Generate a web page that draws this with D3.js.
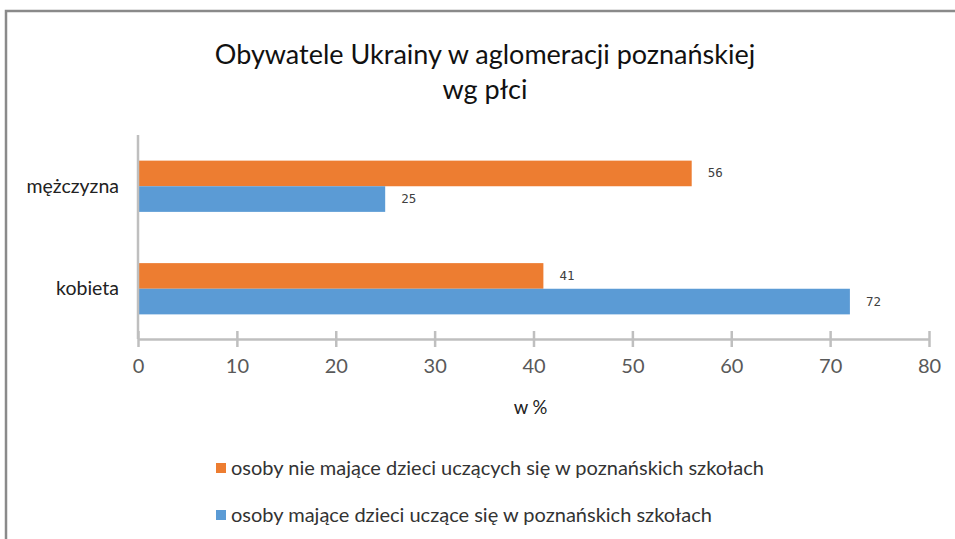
<!DOCTYPE html>
<html><head><meta charset="utf-8">
<script src="https://cdn.jsdelivr.net/npm/d3@7"></script>
<style>body{margin:0;background:#fff}svg{display:block}</style>
</head><body>
<svg id="c" width="955" height="539"></svg>
<script>
const categories = ["mężczyzna", "kobieta"];
const seriesNames = ["osoby nie mające dzieci uczących się w poznańskich szkołach", "osoby mające dzieci uczące się w poznańskich szkołach"];
const seriesColors = ["#ED7D31", "#5B9BD5"];
const orangeValues = [56, 41];
const blueValues = [25, 72];
const xTicks = [0, 10, 20, 30, 40, 50, 60, 70, 80];
const titleLines = ["Obywatele Ukrainy w aglomeracji poznańskiej", "wg płci"];
const axisTitle = "w %";

const svg = d3.select("#c");
const font = "Lato, 'Open Sans', sans-serif";

// frame
svg.append("path").attr("d","M6,539 V11 H955").attr("fill","none").attr("stroke","#8a8a8a").attr("stroke-width",2.5);

// title
svg.append("g").selectAll("text").data(titleLines).join("text")
  .attr("x",485).attr("y",(d,i)=>64+i*35).attr("text-anchor","middle")
  .attr("font-family",font).attr("font-size",27).attr("fill","#111").text(d=>d);

const x = d3.scaleLinear().domain([0,80]).range([138,929]);
const y = d3.scaleBand().domain(categories).range([135,340]).paddingInner(0.5).paddingOuter(0.25);
const y1 = d3.scaleBand().domain([0,1]).range([0,y.bandwidth()]);

const data = categories.map((c,i)=>({cat:c, vals:[orangeValues[i], blueValues[i]]}));

// bars
const g = svg.append("g");
data.forEach(d=>{
  d.vals.forEach((v,s)=>{
    g.append("rect").attr("x",x(0)).attr("y",y(d.cat)+y1(s))
      .attr("width",x(v)-x(0)).attr("height",y1.bandwidth()).attr("fill",seriesColors[s]);
    g.append("text").attr("x",x(v)+16).attr("y",y(d.cat)+y1(s)+y1.bandwidth()/2+4)
      .attr("font-family","'DejaVu Sans Mono', monospace").attr("font-size",12.5).attr("fill","#404040").text(v);
  });
});

// x axis
const xa = svg.append("g").attr("transform","translate(0,339)")
  .call(d3.axisBottom(x).tickValues(xTicks).tickSize(0).tickPadding(20));
xa.select(".domain").attr("stroke","#bfbfbf").attr("stroke-width",2.5);
xa.selectAll(".tick text").attr("font-family",font).attr("font-size",20).attr("fill","#595959");
xa.selectAll(".tick").append("line").attr("y1",-8).attr("y2",8).attr("stroke","#bfbfbf").attr("stroke-width",2.5);

// y axis line
svg.append("line").attr("x1",x(0)).attr("x2",x(0)).attr("y1",135).attr("y2",339).attr("stroke","#bfbfbf").attr("stroke-width",2.5);
const ya = svg.append("g").attr("transform",`translate(${x(0)},0)`)
  .call(d3.axisLeft(y).tickSize(0).tickPadding(19));
ya.select(".domain").remove();
ya.selectAll(".tick text").attr("font-family",font).attr("font-size",19.5).attr("fill","#222");

// axis title
svg.append("text").attr("x",x(40)-3).attr("y",414).attr("text-anchor","middle")
  .attr("font-family",font).attr("font-size",18.5).attr("fill","#222").text(axisTitle);

// legend
const lg = svg.append("g");
seriesNames.forEach((n,i)=>{
  const yy = 468 + i*47;
  lg.append("rect").attr("x",216).attr("y",yy-5).attr("width",10).attr("height",10).attr("fill",seriesColors[i]);
  lg.append("text").attr("x",231).attr("y",yy+7).attr("font-family",font).attr("font-size",20).attr("fill","#333").text(n);
});
</script>
</body></html>
